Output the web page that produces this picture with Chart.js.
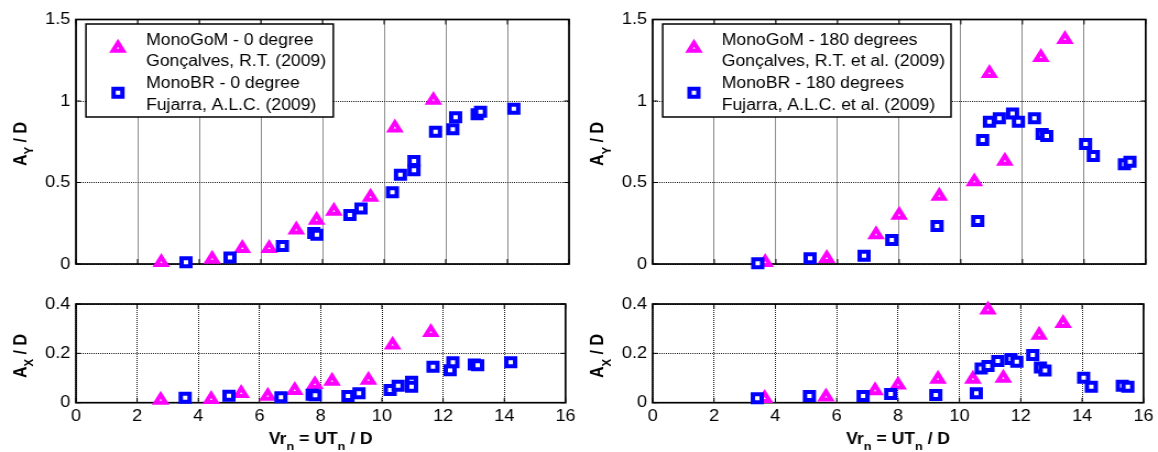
<!DOCTYPE html>
<html><head><meta charset="utf-8">
<script src="https://cdn.jsdelivr.net/npm/chart.js@4/dist/chart.umd.min.js"></script>
<style>
html,body{margin:0;padding:0;background:#fff;}
body{width:1158px;height:452px;position:relative;overflow:hidden;}
canvas{position:absolute;}
</style></head><body>
<canvas id="c1" width="527" height="280" style="left:0;top:0;width:580px;height:280px"></canvas>
<canvas id="c2" width="527" height="172" style="left:0;top:280px;width:580px;height:172px"></canvas>
<canvas id="c3" width="525" height="280" style="left:580px;top:0;width:578px;height:280px"></canvas>
<canvas id="c4" width="525" height="172" style="left:580px;top:280px;width:578px;height:172px"></canvas>
<script>
// ---------- data ----------
const xTicks = [0, 2, 4, 6, 8, 10, 12, 14, 16];
const yTicksAy = [0, 0.5, 1, 1.5];
const yTicksAx = [0, 0.2, 0.4];

// 0 degree
const gom0Vr = [2.77, 4.42, 5.40, 6.27, 7.15, 7.81, 8.37, 9.56, 10.35, 11.60];
const gom0Ay = [0.01, 0.03, 0.096, 0.096, 0.21, 0.27, 0.325, 0.41, 0.835, 1.005];
const gom0Ax = [0.011, 0.014, 0.038, 0.027, 0.05, 0.074, 0.088, 0.092, 0.234, 0.285];

const br0Vr = [3.57, 5.00, 6.70, 7.72, 7.82, 8.89, 9.25, 10.27, 10.53, 10.97, 10.97, 11.67, 12.23, 12.32, 13.02, 13.13, 14.21];
const br0Ay = [0.01, 0.04, 0.11, 0.19, 0.18, 0.30, 0.34, 0.44, 0.548, 0.632, 0.575, 0.812, 0.826, 0.90, 0.918, 0.934, 0.953];
const br0Ax = [0.02, 0.028, 0.022, 0.032, 0.03, 0.027, 0.038, 0.051, 0.069, 0.085, 0.065, 0.146, 0.132, 0.164, 0.155, 0.152, 0.164];

// 180 degrees
const gom180Vr = [3.65, 5.65, 7.25, 8.0, 9.30, 10.44, 10.93, 11.43, 12.60, 13.38];
const gom180Ay = [0.01, 0.035, 0.18, 0.30, 0.417, 0.505, 1.17, 0.632, 1.268, 1.378];
const gom180Ax = [0.018, 0.024, 0.049, 0.072, 0.096, 0.096, 0.376, 0.10, 0.274, 0.322];

const br180Vr = [3.41, 5.11, 6.86, 7.76, 9.23, 10.55, 10.71, 10.93, 11.25, 11.68, 11.87, 12.39, 12.64, 12.79, 14.05, 14.30, 15.31, 15.49];
const br180Ay = [0.004, 0.035, 0.051, 0.147, 0.233, 0.264, 0.76, 0.873, 0.894, 0.924, 0.873, 0.894, 0.798, 0.785, 0.736, 0.663, 0.612, 0.628];
const br180Ax = [0.018, 0.027, 0.027, 0.035, 0.031, 0.038, 0.139, 0.149, 0.169, 0.177, 0.166, 0.193, 0.143, 0.130, 0.101, 0.065, 0.069, 0.065];

const legend0 = [["MonoGoM - 0 degree", "Gonçalves, R.T. (2009)"], ["MonoBR - 0 degree", "Fujarra, A.L.C. (2009)"]];
const legend180 = [["MonoGoM - 180 degrees", "Gonçalves, R.T. et al. (2009)"], ["MonoBR - 180 degrees", "Fujarra, A.L.C. et al. (2009)"]];
const titleAy = [["A", false], ["Y", true], [" / D", false]];
const titleAx = [["A", false], ["X", true], [" / D", false]];
const titleVr = [["Vr", false], ["n", true], [" = UT", false], ["n", true], [" / D", false]];

// ---------- styling ----------
const FONT = "'Liberation Sans', Arial, Helvetica, sans-serif";
const MAG = '#FF00FF';
const BLUE = '#0000FF';
const SQ = {pointStyle: 'rect', radius: 5.66, borderWidth: 4};
const TR = {pointStyle: 'triangle', radius: 5.3, borderWidth: 4};

function pts(xs, ys) { return xs.map((x, i) => ({x: x, y: ys[i]})); }

function drawMarker(ctx, st, color, x, y) {
  ctx.save();
  ctx.fillStyle = '#fff';
  ctx.strokeStyle = color;
  ctx.lineWidth = st.borderWidth;
  if (Chart.helpers && Chart.helpers.drawPoint) {
    Chart.helpers.drawPoint(ctx, {pointStyle: st.pointStyle, radius: st.radius, borderWidth: st.borderWidth, rotation: 0}, x, y);
  } else {
    ctx.beginPath();
    if (st.pointStyle === 'rect') {
      const s = st.radius * Math.SQRT1_2;
      ctx.rect(x - s, y - s, 2 * s, 2 * s);
    } else {
      const r = st.radius;
      ctx.moveTo(x, y - r);
      ctx.lineTo(x + r * 0.866, y + r / 2);
      ctx.lineTo(x - r * 0.866, y + r / 2);
      ctx.closePath();
    }
    ctx.fill(); ctx.stroke();
  }
  ctx.restore();
}

function drawParts(ctx, parts, cx, baseY, rotate, cy) {
  ctx.save();
  const mainF = 'bold 16px ' + FONT, subF = 'bold 11.5px ' + FONT;
  let total = 0;
  const widths = parts.map(p => { ctx.font = p[1] ? subF : mainF; const w = ctx.measureText(p[0]).width; total += w; return w; });
  if (rotate) { ctx.translate(cx, cy); ctx.rotate(-Math.PI / 2); }
  else { ctx.translate(cx, 0); }
  let x = -total / 2;
  ctx.fillStyle = '#000';
  ctx.textBaseline = 'alphabetic';
  ctx.textAlign = 'left';
  parts.forEach((p, i) => {
    ctx.font = p[1] ? subF : mainF;
    ctx.fillText(p[0], x, baseY + (p[1] ? 6.5 : 0));
    x += widths[i];
  });
  ctx.restore();
}

function makeDecor(o) {
  return {
    id: 'decor' + o.id,
    beforeDatasetsDraw(chart) {
      const ctx = chart.ctx, a = chart.chartArea;
      const xs = chart.scales.x, ys = chart.scales.y;
      ctx.save();
      ctx.strokeStyle = '#000';
      ctx.lineWidth = 1;
      ctx.beginPath();
      xTicks.forEach(v => {
        const p = xs.getPixelForValue(v);
        ctx.moveTo(p, a.bottom); ctx.lineTo(p, a.bottom - 5);
        ctx.moveTo(p, a.top); ctx.lineTo(p, a.top + 5);
      });
      o.yTicks.forEach(v => {
        const p = ys.getPixelForValue(v);
        ctx.moveTo(a.left, p); ctx.lineTo(a.left + 4.5, p);
        ctx.moveTo(a.right, p); ctx.lineTo(a.right - 4.5, p);
      });
      ctx.stroke();
      ctx.lineWidth = 1.7;
      ctx.strokeRect(a.left, a.top, a.right - a.left, a.bottom - a.top);
      ctx.restore();
    },
    afterDraw(chart) {
      const ctx = chart.ctx, a = chart.chartArea;
      drawParts(ctx, o.yTitle, o.yTitleX, 5.7, true, o.yTitleY);
      if (o.showX) drawParts(ctx, titleVr, (a.left + a.right) / 2, 163.5, false, 0);
      if (o.legend) {
        const L = o.legend;
        ctx.save();
        ctx.fillStyle = '#fff';
        ctx.fillRect(L.x0, 24, L.x1 - L.x0, 93);
        ctx.strokeStyle = '#000';
        ctx.lineWidth = 1.5;
        ctx.strokeRect(L.x0, 24, L.x1 - L.x0, 93);
        drawMarker(ctx, TR, MAG, L.mx, 48);
        drawMarker(ctx, SQ, BLUE, L.mx, 92.7);
        ctx.fillStyle = '#000';
        ctx.font = '16px ' + FONT;
        ctx.textBaseline = 'middle';
        ctx.textAlign = 'left';
        const lines = [L.text[0][0], L.text[0][1], L.text[1][0], L.text[1][1]];
        const ys = [40.5, 62, 84, 106];
        lines.forEach((t, i) => ctx.fillText(t, L.tx, ys[i]));
        ctx.restore();
      }
    }
  };
}

function build(o) {
  const tickFont = {family: FONT, size: 16.5};
  return new Chart(document.getElementById(o.id), {
    type: 'scatter',
    data: {datasets: [
      {label: 'MonoBR', data: pts(o.sqX, o.sqY), pointStyle: SQ.pointStyle, pointRadius: SQ.radius,
       pointBorderWidth: SQ.borderWidth, pointBorderColor: BLUE, pointBackgroundColor: '#fff', clip: false},
      {label: 'MonoGoM', data: pts(o.trX, o.trY), pointStyle: TR.pointStyle, pointRadius: TR.radius,
       pointBorderWidth: TR.borderWidth, pointBorderColor: MAG, pointBackgroundColor: '#fff', clip: false}
    ]},
    options: {
      responsive: false, animation: false, events: [], devicePixelRatio: 1,
      layout: {padding: {left: 0, right: o.padR, top: o.padT, bottom: 0}},
      plugins: {legend: {display: false}, tooltip: {enabled: false}},
      scales: {
        x: {
          type: 'linear', min: 0, max: 16,
          afterBuildTicks: s => { s.ticks = xTicks.map(v => ({value: v})); },
          ticks: {display: o.showX, font: tickFont, color: '#000', padding: 4, maxRotation: 0, autoSkip: false,
                  callback: v => String(v)},
          grid: {color: 'rgba(0,0,0,0.9)', lineWidth: 1, drawTicks: false},
          border: {display: false, dash: [1, 1]},
          afterFit: s => { s.height = o.xAxisH; }
        },
        y: {
          type: 'linear', min: 0, max: o.yTicks[o.yTicks.length - 1],
          afterBuildTicks: s => { s.ticks = o.yTicks.map(v => ({value: v})); },
          ticks: {font: tickFont, color: '#000', padding: 5, autoSkip: false, callback: v => String(v)},
          grid: {color: 'rgba(0,0,0,0.9)', lineWidth: 1, drawTicks: false},
          border: {display: false, dash: [1, 1]},
          afterFit: s => { s.width = o.yAxisW; }
        }
      }
    },
    plugins: [makeDecor(o)]
  });
}

build({id: 'c1', sqX: br0Vr, sqY: br0Ay, trX: gom0Vr, trY: gom0Ay, yTicks: yTicksAy,
  yAxisW: 69, padR: 10, padT: 19.5, xAxisH: 16, showX: false,
  yTitle: titleAy, yTitleX: 18.2, yTitleY: 144,
  legend: {x0: 78.1, x1: 302.8, mx: 107.2, tx: 132.7, text: legend0}});
build({id: 'c2', sqX: br0Vr, sqY: br0Ax, trX: gom0Vr, trY: gom0Ax, yTicks: yTicksAx,
  yAxisW: 69, padR: 10, padT: 24, xAxisH: 49.3, showX: true,
  yTitle: titleAx, yTitleX: 18.2, yTitleY: 76, legend: null});
build({id: 'c3', sqX: br180Vr, sqY: br180Ay, trX: gom180Vr, trY: gom180Ay, yTicks: yTicksAy,
  yAxisW: 66, padR: 11.2, padT: 19.5, xAxisH: 16, showX: false,
  yTitle: titleAy, yTitleX: 15.5, yTitleY: 144,
  legend: {x0: 75.1, x1: 337, mx: 103.5, tx: 128.7, text: legend180}});
build({id: 'c4', sqX: br180Vr, sqY: br180Ax, trX: gom180Vr, trY: gom180Ax, yTicks: yTicksAx,
  yAxisW: 66, padR: 11.2, padT: 24, xAxisH: 49.3, showX: true,
  yTitle: titleAx, yTitleX: 15.5, yTitleY: 76, legend: null});
</script>
</body></html>
